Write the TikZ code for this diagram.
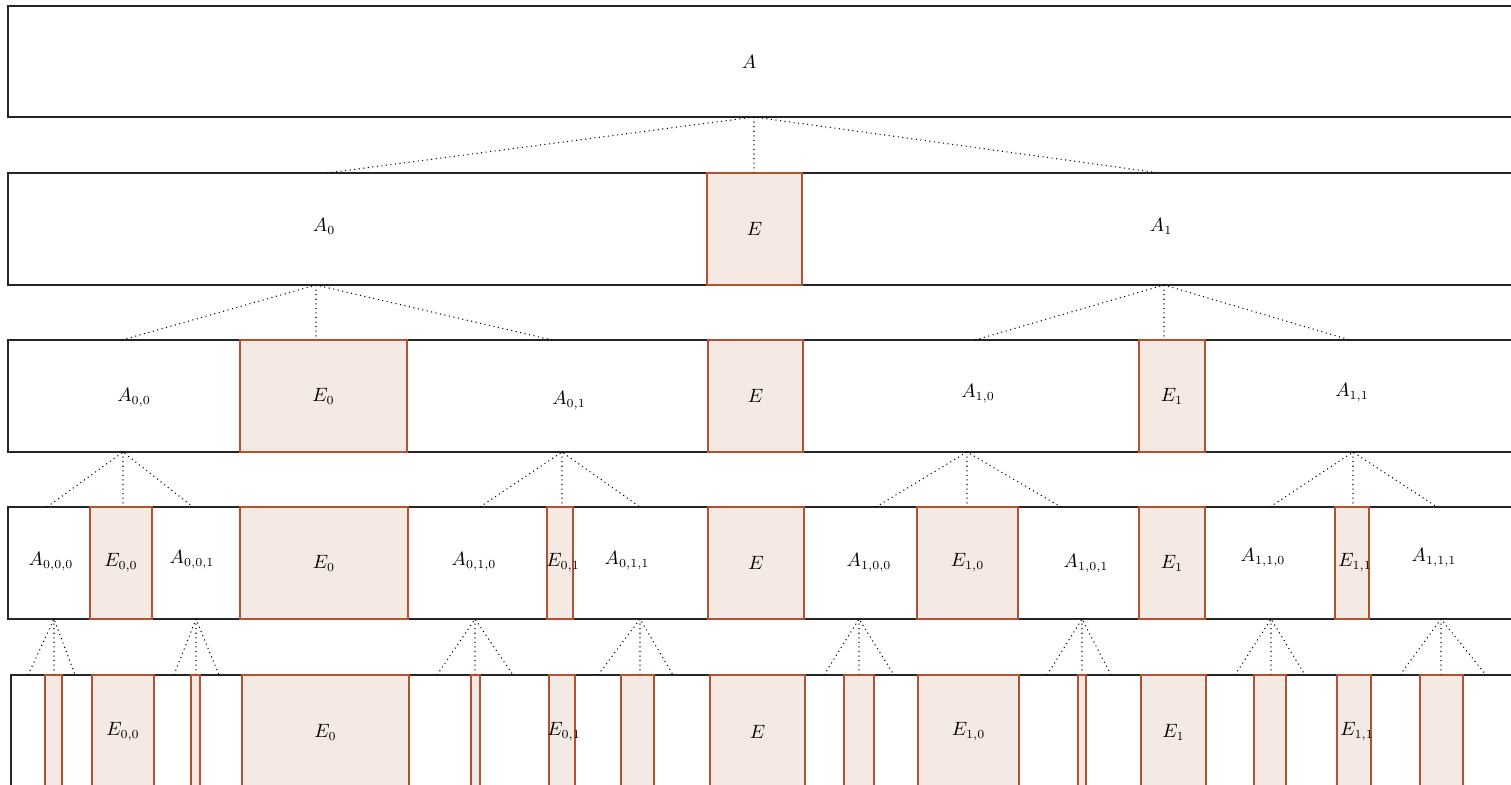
\documentclass[tikz,border=0pt]{standalone}
\usepackage{amsmath}
\usetikzlibrary{positioning}
\definecolor{splitFill}{RGB}{245,233,227}
\definecolor{splitLine}{RGB}{178,82,50}

\begin{document}
\begin{tikzpicture}[x=0.2mm, y=-0.2mm,
      font=\fontsize{10.5}{12.5}\selectfont,
      tier/.style={draw=black!85, line width=0.7pt, inner sep=0pt, minimum width=1522*0.2mm, minimum height=#1*0.2mm},
      ebox/.style={draw=splitLine, fill=splitFill, line width=0.7pt, inner sep=0pt, minimum width=#1*0.2mm, minimum height=112*0.2mm},
      fork/.style={dotted, line width=0.6pt}
    ]
      \useasboundingbox (0,0) rectangle (1511,785);
      \clip (0,0) rectangle (1511,785);

      % the five tiers
      \node[tier=111] (ra) at (769,61.5) {};
      \node[tier=112] (rb) at (769,229) {};
      \node[tier=112] (rc) at (769,396) {};
      \node[tier=112] (rd) at (769,563) {};
      \node[tier=114, minimum width=1519*0.2mm] (re) at (770.5,732) {};

      % separators, tier 2
      \node[ebox=95] (eb) at (754.5,229) {$E$};
      % tier 3
      \node[ebox=167] (e0c) at (323.5,396) {$E_0$};
      \node[ebox=95] (ec) at (755.5,396) {$E$};
      \node[ebox=66] (e1c) at (1172,396) {$E_1$};
      % tier 4
      \node[ebox=62] (e00d) at (121,563) {$E_{0,0}$};
      \node[ebox=168] (e0d) at (324,563) {$E_0$};
      \node[ebox=26, label={[xshift=0.6mm]center:$E_{0,1}$}] (e01d) at (560,563) {};
      \node[ebox=96] (ed) at (756,563) {$E$};
      \node[ebox=101] (e10d) at (967.5,563) {$E_{1,0}$};
      \node[ebox=66] (e1d) at (1172,563) {$E_1$};
      \node[ebox=34, label={[xshift=0.6mm]center:$E_{1,1}$}] (e11d) at (1352,563) {};
      % tier 5
      \node[ebox=17, minimum height=114*0.2mm] (e000e) at (53.5,732) {};
      \node[ebox=62, minimum height=114*0.2mm] (e00e) at (123,732) {$E_{0,0}$};
      \node[ebox=9, minimum height=114*0.2mm] (e001e) at (195.5,732) {};
      \node[ebox=167, minimum height=114*0.2mm] (e0e) at (325.5,732) {$E_0$};
      \node[ebox=9, minimum height=114*0.2mm] (e010e) at (475.5,732) {};
      \node[ebox=26, minimum height=114*0.2mm, label={[xshift=0.4mm]center:$E_{0,1}$}] (e01e) at (562,732) {};
      \node[ebox=33, minimum height=114*0.2mm] (e011e) at (637.5,732) {};
      \node[ebox=95, minimum height=114*0.2mm] (ee) at (757.5,732) {$E$};
      \node[ebox=30, minimum height=114*0.2mm] (e100e) at (859,732) {};
      \node[ebox=101, minimum height=114*0.2mm] (e10e) at (968.5,732) {$E_{1,0}$};
      \node[ebox=8, minimum height=114*0.2mm] (e101e) at (1082,732) {};
      \node[ebox=65, minimum height=114*0.2mm] (e1e) at (1173.5,732) {$E_1$};
      \node[ebox=32, minimum height=114*0.2mm] (e110e) at (1270,732) {};
      \node[ebox=34, minimum height=114*0.2mm, label={[xshift=0.6mm]center:$E_{1,1}$}] (e11e) at (1354,732) {};
      \node[ebox=43, minimum height=114*0.2mm] (e111e) at (1441.5,732) {};

      % part labels
      \node (aA) at (749,62) {$A$};
      \node (aA0) at (324,226) {$A_0$};
      \node (aA1) at (1161,226) {$A_1$};
      \node (aA00) at (134,398) {$A_{0,0}$};
      \node (aA01) at (569,401) {$A_{0,1}$};
      \node (aA10) at (978,394) {$A_{1,0}$};
      \node (aA11) at (1352,393) {$A_{1,1}$};
      \node (aA000) at (51,562) {$A_{0,0,0}$};
      \node (aA001) at (192,560) {$A_{0,0,1}$};
      \node (aA010) at (474,562) {$A_{0,1,0}$};
      \node (aA011) at (627,561) {$A_{0,1,1}$};
      \node (aA100) at (869,563) {$A_{1,0,0}$};
      \node (aA101) at (1086,564) {$A_{1,0,1}$};
      \node (aA110) at (1263,558) {$A_{1,1,0}$};
      \node (aA111) at (1434,558) {$A_{1,1,1}$};

      % fork points
      \coordinate (fA) at (754,117);
      \coordinate (fA0) at (316,285); \coordinate (fA1) at (1164,285);
      \coordinate (fA00) at (123,452); \coordinate (fA01) at (562,452);
      \coordinate (fA10) at (967,452); \coordinate (fA11) at (1353,452);
      \coordinate (fA000) at (54,619); \coordinate (fA001) at (196,619);
      \coordinate (fA010) at (475,619); \coordinate (fA011) at (640,619);
      \coordinate (fA100) at (859,619); \coordinate (fA101) at (1082,619);
      \coordinate (fA110) at (1271,619); \coordinate (fA111) at (1441,619);
      \coordinate (tA0) at (327,173); \coordinate (tA1) at (1160,173);
      \coordinate (tA00) at (122,340); \coordinate (tA01) at (552,340);
      \coordinate (tA10) at (975,340); \coordinate (tA11) at (1350,340);
      \coordinate (tA000) at (47,507); \coordinate (tA001) at (193,507);
      \coordinate (tA010) at (480,507); \coordinate (tA011) at (640,507);
      \coordinate (tA100) at (876,507); \coordinate (tA101) at (1061,507);
      \coordinate (tA110) at (1270,507); \coordinate (tA111) at (1437,507);
      \coordinate (tA0000) at (28,675); \coordinate (tA0001) at (75,675);
      \coordinate (tA0010) at (174,675); \coordinate (tA0011) at (219,675);
      \coordinate (tA0100) at (437,675); \coordinate (tA0101) at (513,675);
      \coordinate (tA0110) at (598,675); \coordinate (tA0111) at (673,675);
      \coordinate (tA1000) at (824,675); \coordinate (tA1001) at (894,675);
      \coordinate (tA1010) at (1047,675); \coordinate (tA1011) at (1111,675);
      \coordinate (tA1100) at (1235,675); \coordinate (tA1101) at (1305,675);
      \coordinate (tA1110) at (1400,675); \coordinate (tA1111) at (1486,675);

      % splits
      \draw[fork] (tA0) -- (fA) -- (tA1) (fA) -- (fA |- eb.north);
      \draw[fork] (tA00) -- (fA0) -- (tA01) (fA0) -- (fA0 |- e0c.north);
      \draw[fork] (tA10) -- (fA1) -- (tA11) (fA1) -- (fA1 |- e1c.north);
      \draw[fork] (tA000) -- (fA00) -- (tA001) (fA00) -- (fA00 |- e00d.north);
      \draw[fork] (tA010) -- (fA01) -- (tA011) (fA01) -- (fA01 |- e01d.north);
      \draw[fork] (tA100) -- (fA10) -- (tA101) (fA10) -- (fA10 |- e10d.north);
      \draw[fork] (tA110) -- (fA11) -- (tA111) (fA11) -- (fA11 |- e11d.north);
      \draw[fork] (tA0000) -- (fA000) -- (tA0001) (fA000) -- (fA000 |- e000e.north);
      \draw[fork] (tA0010) -- (fA001) -- (tA0011) (fA001) -- (fA001 |- e001e.north);
      \draw[fork] (tA0100) -- (fA010) -- (tA0101) (fA010) -- (fA010 |- e010e.north);
      \draw[fork] (tA0110) -- (fA011) -- (tA0111) (fA011) -- (fA011 |- e011e.north);
      \draw[fork] (tA1000) -- (fA100) -- (tA1001) (fA100) -- (fA100 |- e100e.north);
      \draw[fork] (tA1010) -- (fA101) -- (tA1011) (fA101) -- (fA101 |- e101e.north);
      \draw[fork] (tA1100) -- (fA110) -- (tA1101) (fA110) -- (fA110 |- e110e.north);
      \draw[fork] (tA1110) -- (fA111) -- (tA1111) (fA111) -- (fA111 |- e111e.north);
    \end{tikzpicture}
\end{document}
